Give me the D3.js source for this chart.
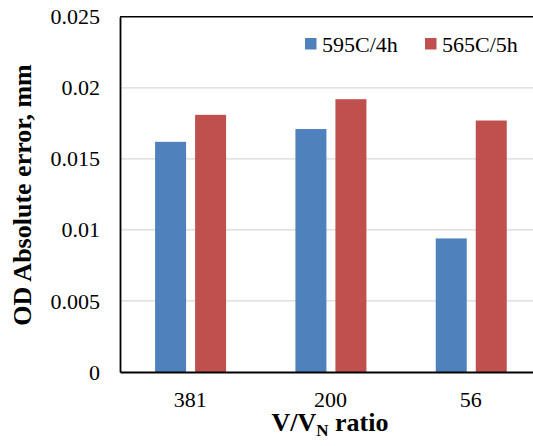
<!DOCTYPE html>
<html>
<head>
<meta charset="utf-8">
<script src="https://cdn.jsdelivr.net/npm/d3@7"></script>
<style>
  html, body { margin: 0; padding: 0; background: #fff; overflow: hidden; }
  svg { display: block; }
  svg text { font-family: "Liberation Serif", "Times New Roman", serif !important; }
</style>
</head>
<body>
<svg id="chart" width="533" height="446"></svg>
<script>
const categories = ["381", "200", "56"];
const seriesNames = ["595C/4h", "565C/5h"];
const series595 = [0.0162, 0.0171, 0.0094];
const series565 = [0.0181, 0.0192, 0.0177];
const yTicks = [0, 0.005, 0.01, 0.015, 0.02, 0.025];
const yTickLabels = ["0", "0.005", "0.01", "0.015", "0.02", "0.025"];
const colors = ["#4f81bd", "#c0504d"];

const data = categories.map((c, i) => ({ cat: c, values: [series595[i], series565[i]] }));

const svg = d3.select("#chart");
const pLeft = 120, pRight = 541, pTop = 16.8, pBottom = 372;

const x0 = d3.scaleBand().domain(categories).range([pLeft, pRight]).paddingInner(0).paddingOuter(0);
const step = x0.step();
const x1 = d3.scaleBand().domain(seriesNames)
  .range([step * 0.25, step * 0.756]).paddingInner(0.225).paddingOuter(0);
const y = d3.scaleLinear().domain([0, 0.025]).range([pBottom, pTop]);

// gridlines
svg.append("g").selectAll("line").data(yTicks.filter(t => t > 0 && t < 0.025)).join("line")
  .attr("x1", pLeft).attr("x2", pRight)
  .attr("y1", d => y(d)).attr("y2", d => y(d))
  .attr("stroke", "#d9d9d9").attr("stroke-width", 1.3);

// bars
const groups = svg.append("g").selectAll("g").data(data).join("g")
  .attr("transform", d => `translate(${x0(d.cat)},0)`);
groups.selectAll("rect").data(d => d.values.map((v, i) => ({ v, s: seriesNames[i], i })))
  .join("rect")
  .attr("x", d => x1(d.s))
  .attr("width", x1.bandwidth())
  .attr("y", d => y(d.v))
  .attr("height", d => y(0) - y(d.v))
  .attr("fill", d => colors[d.i]);

// plot border (top)
svg.append("line").attr("x1", pLeft).attr("x2", pRight).attr("y1", pTop).attr("y2", pTop)
  .attr("stroke", "#000").attr("stroke-width", 1.5);

// y axis
const yAxis = d3.axisLeft(y).tickValues(yTicks).tickSize(0).tickPadding(20)
  .tickFormat((d, i) => yTickLabels[i]);
const gy = svg.append("g").attr("transform", `translate(${pLeft},0)`).call(yAxis);
gy.select(".domain").attr("stroke", "#000").attr("stroke-width", 1.8);
gy.selectAll("text").attr("font-size", 22).attr("fill", "#000");

// x axis
const xAxis = d3.axisBottom(x0).tickSize(0).tickPadding(19);
const gx = svg.append("g").attr("transform", `translate(0,${pBottom})`).call(xAxis);
gx.select(".domain").attr("stroke", "#000").attr("stroke-width", 2);
gx.selectAll("text").attr("font-size", 22).attr("fill", "#000");

// axis titles
const xt = svg.append("text").attr("x", 330).attr("y", 431).attr("text-anchor", "middle")
  .attr("font-size", 26).attr("font-weight", "bold").attr("fill", "#000");
xt.append("tspan").text("V/V");
xt.append("tspan").text("N").attr("font-size", 17).attr("dy", 5);
xt.append("tspan").text(" ratio").attr("dy", -5);

svg.append("text").attr("transform", "translate(31,195) rotate(-90)")
  .attr("text-anchor", "middle").attr("font-size", 26).attr("font-weight", "bold")
  .attr("fill", "#000").text("OD Absolute error, mm");

// legend
const legendX = [305, 425];
const lg = svg.append("g").selectAll("g").data(seriesNames).join("g")
  .attr("transform", (d, i) => `translate(${legendX[i]},0)`);
lg.append("rect").attr("x", 0).attr("y", 38).attr("width", 11.5).attr("height", 11.5)
  .attr("fill", (d, i) => colors[i]);
lg.append("text").attr("x", 17).attr("y", 51.5).attr("font-size", 22)
  .attr("fill", "#000").text(d => d);
</script>
</body>
</html>
